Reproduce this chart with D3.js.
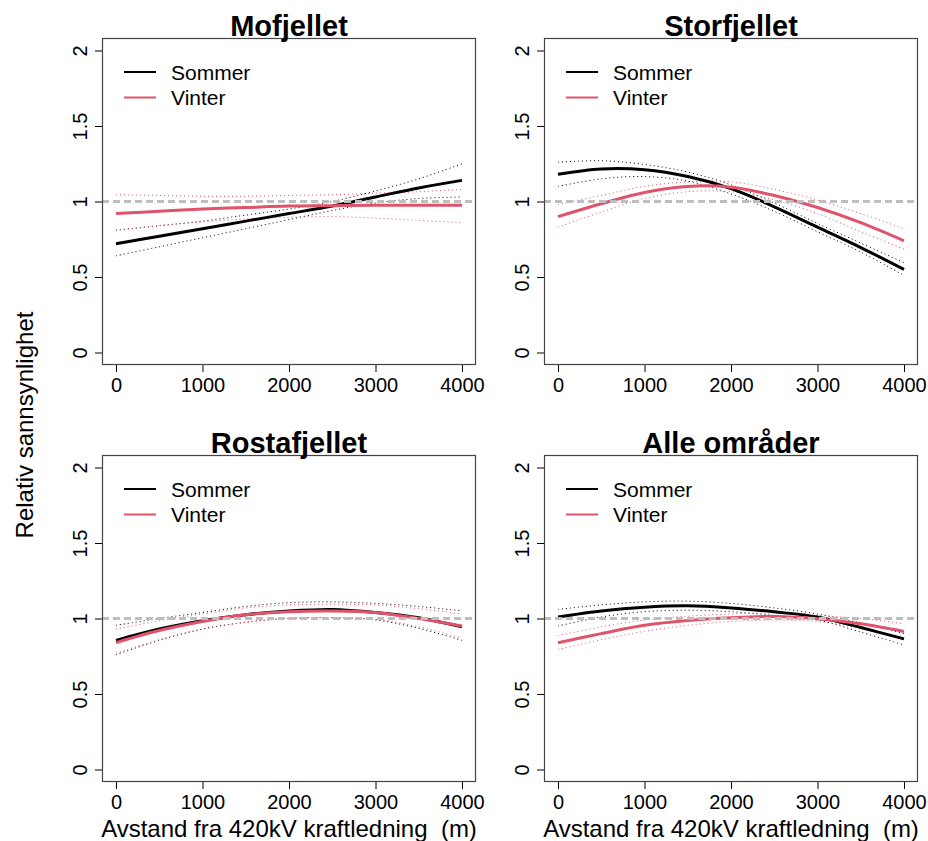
<!DOCTYPE html>
<html>
<head>
<meta charset="utf-8">
<script src="https://cdn.jsdelivr.net/npm/d3@7"></script>
<style>
  body { margin: 0; background: #fff; }
  svg { display: block; font-family: "Liberation Sans", Arial, sans-serif; }
</style>
</head>
<body>
<svg id="chart" width="928" height="841"></svg>
<script>
// distances along the x axis (m)
const distance = [0, 500, 1000, 1500, 2000, 2500, 3000, 3500, 4000];

// Mofjellet
const mofSommer   = [0.72, 0.77, 0.82, 0.87, 0.92, 0.97, 1.03, 1.09, 1.14];
const mofSommerHi = [0.81, 0.84, 0.87, 0.91, 0.95, 1.00, 1.07, 1.15, 1.25];
const mofSommerLo = [0.64, 0.70, 0.76, 0.82, 0.88, 0.94, 0.99, 1.02, 1.03];
const mofVinter   = [0.92, 0.935, 0.95, 0.96, 0.97, 0.972, 0.975, 0.975, 0.975];
const mofVinterHi = [1.045, 1.04, 1.035, 1.035, 1.04, 1.045, 1.055, 1.065, 1.08];
const mofVinterLo = [0.81, 0.84, 0.865, 0.885, 0.895, 0.90, 0.89, 0.875, 0.86];

// Storfjellet
const stoSommer   = [1.18, 1.215, 1.21, 1.165, 1.085, 0.965, 0.83, 0.695, 0.55];
const stoSommerHi = [1.26, 1.27, 1.245, 1.195, 1.11, 0.99, 0.855, 0.725, 0.595];
const stoSommerLo = [1.10, 1.15, 1.165, 1.135, 1.05, 0.935, 0.80, 0.665, 0.51];
const stoVinter   = [0.90, 0.985, 1.06, 1.10, 1.095, 1.04, 0.96, 0.86, 0.74];
const stoVinterHi = [0.98, 1.04, 1.10, 1.13, 1.13, 1.08, 1.01, 0.92, 0.82];
const stoVinterLo = [0.83, 0.93, 1.02, 1.065, 1.065, 1.01, 0.92, 0.80, 0.685];

// Rostafjellet
const rosSommer   = [0.855, 0.93, 0.985, 1.025, 1.05, 1.06, 1.04, 1.005, 0.945];
const rosSommerHi = [0.955, 1.00, 1.04, 1.08, 1.105, 1.11, 1.10, 1.08, 1.05];
const rosSommerLo = [0.76, 0.855, 0.93, 0.975, 1.00, 1.005, 0.99, 0.935, 0.855];
const rosVinter   = [0.84, 0.92, 0.98, 1.025, 1.045, 1.05, 1.04, 1.00, 0.95];
const rosVinterHi = [0.93, 0.985, 1.03, 1.07, 1.09, 1.095, 1.09, 1.065, 1.03];
const rosVinterLo = [0.77, 0.86, 0.93, 0.975, 1.00, 1.005, 0.995, 0.945, 0.87];

// Alle områder
const allSommer   = [1.01, 1.05, 1.075, 1.084, 1.07, 1.044, 1.01, 0.94, 0.865];
const allSommerHi = [1.06, 1.09, 1.11, 1.115, 1.10, 1.07, 1.03, 0.97, 0.90];
const allSommerLo = [0.95, 1.01, 1.045, 1.055, 1.045, 1.02, 0.99, 0.91, 0.825];
const allVinter   = [0.84, 0.90, 0.955, 0.987, 1.005, 1.013, 0.998, 0.965, 0.914];
const allVinterHi = [0.887, 0.945, 0.99, 1.015, 1.03, 1.035, 1.02, 1.00, 0.965];
const allVinterLo = [0.795, 0.86, 0.915, 0.955, 0.98, 0.99, 0.98, 0.935, 0.86];

const titles = ["Mofjellet", "Storfjellet", "Rostafjellet", "Alle områder"];
const seasons = ["Sommer", "Vinter"];
const xTicks = [0, 1000, 2000, 3000, 4000];
const yTicks = [0, 0.5, 1, 1.5, 2];
const yTickLabels = ["0", "0.5", "1", "1.5", "2"];
const xTitle = "Avstand fra 420kV kraftledning  (m)";
const yTitle = "Relativ sannsynlighet";

const panelData = [
  [[mofSommer, mofSommerLo, mofSommerHi], [mofVinter, mofVinterLo, mofVinterHi]],
  [[stoSommer, stoSommerLo, stoSommerHi], [stoVinter, stoVinterLo, stoVinterHi]],
  [[rosSommer, rosSommerLo, rosSommerHi], [rosVinter, rosVinterLo, rosVinterHi]],
  [[allSommer, allSommerLo, allSommerHi], [allVinter, allVinterLo, allVinterHi]]
];

const colors = ["#000000", "#DF536B"];
const lefts = [102, 544], tops = [38, 455];
const pw = 374, ph = 327;

const svg = d3.select("#chart");

// shared y title
svg.append("text")
  .attr("transform", "translate(33,425) rotate(-90)")
  .attr("text-anchor", "middle")
  .attr("font-size", 24)
  .text(yTitle);

panelData.forEach((series, i) => {
  const left = lefts[i % 2], top = tops[Math.floor(i / 2)];
  const g = svg.append("g").attr("transform", `translate(${left},${top})`);

  // R style: range padded 4 % on each side
  const x = d3.scaleLinear().domain([0, 4000]).range([14, pw - 14]);
  const y = d3.scaleLinear().domain([0, 2]).range([ph - 12.5, 12.5]);

  const line = d3.line()
    .x((d, k) => x(distance[k]))
    .y(d => y(d))
    .curve(d3.curveCatmullRom);

  // axes
  const ax = g.append("g")
    .attr("transform", `translate(0,${ph})`)
    .call(d3.axisBottom(x).tickValues(xTicks).tickSize(7).tickFormat(d3.format("d")));
  ax.select(".domain").remove();
  ax.selectAll("text").attr("y", 26.5).attr("dy", 0).attr("font-size", 20)
    .attr("font-family", "Liberation Sans, Arial, sans-serif").attr("fill", "#000");

  const ay = g.append("g")
    .call(d3.axisLeft(y).tickValues(yTicks).tickSize(7).tickFormat((d, k) => yTickLabels[k]));
  ay.select(".domain").remove();
  ay.selectAll("text")
    .attr("transform", "rotate(-90)")
    .attr("x", 0).attr("y", -15.5).attr("dy", 0)
    .attr("text-anchor", "middle")
    .attr("font-size", 20)
    .attr("font-family", "Liberation Sans, Arial, sans-serif").attr("fill", "#000");

  // CI bands as dotted lines, then fitted lines
  series.forEach((s, j) => {
    [s[1], s[2]].forEach(ci => {
      g.append("path")
        .attr("d", line(ci))
        .attr("fill", "none")
        .attr("stroke", colors[j])
        .attr("stroke-width", 1)
        .attr("stroke-dasharray", "1,3");
    });
  });
  series.forEach((s, j) => {
    g.append("path")
      .attr("d", line(s[0]))
      .attr("fill", "none")
      .attr("stroke", colors[j])
      .attr("stroke-width", 3);
  });

  // reference line at 1
  g.append("line")
    .attr("x1", 0).attr("x2", pw)
    .attr("y1", y(1)).attr("y2", y(1))
    .attr("stroke", "#BEBEBE")
    .attr("stroke-width", 3)
    .attr("stroke-dasharray", "7,4");

  // box
  g.append("rect")
    .attr("x", 0.5).attr("y", 0.5)
    .attr("width", pw - 1).attr("height", ph - 1)
    .attr("fill", "none")
    .attr("stroke", "#444")
    .attr("stroke-width", 1.2);

  // title
  g.append("text")
    .attr("x", pw / 2).attr("y", -2)
    .attr("text-anchor", "middle")
    .attr("font-size", 29)
    .attr("font-weight", "bold")
    .text(titles[i]);

  // legend
  const lg = g.append("g");
  seasons.forEach((name, j) => {
    const ly = 34 + j * 25.5;
    lg.append("line")
      .attr("x1", 22).attr("x2", 54)
      .attr("y1", ly).attr("y2", ly)
      .attr("stroke", colors[j]).attr("stroke-width", 2);
    lg.append("text")
      .attr("x", 69).attr("y", ly + 7.5)
      .attr("font-size", 21)
      .text(name);
  });

  // x title on bottom row only
  if (i >= 2) {
    g.append("text")
      .attr("x", pw / 2).attr("y", ph + 55)
      .attr("text-anchor", "middle")
      .attr("font-size", 24)
      .style("white-space", "pre")
      .text(xTitle);
  }
});
</script>
</body>
</html>
